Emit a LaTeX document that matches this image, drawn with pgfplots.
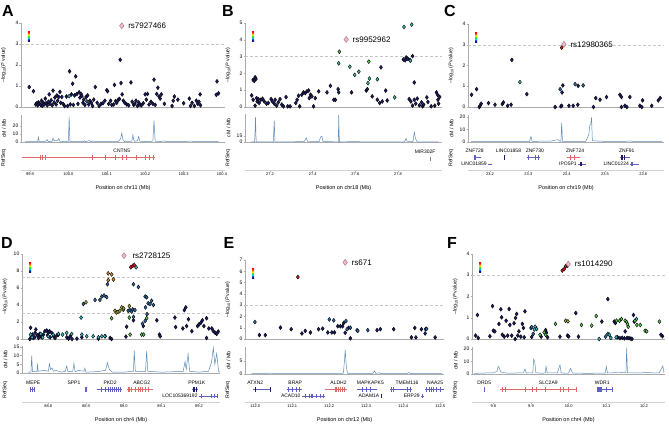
\documentclass[border=0pt]{standalone}
\usepackage{fontspec}
\setmainfont{Liberation Sans}
\usepackage{pgfplots}
\pgfplotsset{compat=1.18}
\definecolor{lznavy}{RGB}{28,28,105}
\definecolor{lzsteel}{RGB}{45,105,165}
\definecolor{lzcyan}{RGB}{60,185,195}
\definecolor{lzteal}{RGB}{70,190,165}
\definecolor{lzgreen}{RGB}{95,200,85}
\definecolor{lzolive}{RGB}{165,175,60}
\definecolor{lzorange}{RGB}{210,140,55}
\definecolor{lzred}{RGB}{205,35,35}
\definecolor{lzpink}{RGB}{232,188,198}
\definecolor{lzpinkd}{RGB}{175,110,130}
\definecolor{recomb}{RGB}{95,140,185}
\definecolor{genebl}{RGB}{95,95,190}
\definecolor{genered}{RGB}{222,105,105}
\pgfdeclareverticalshading{ldshade}{10bp}{color(0bp)=(lznavy); color(3bp)=(blue!80!black); color(6bp)=(cyan!90!blue); color(9bp)=(green!85!black); color(12bp)=(yellow!90!green); color(15bp)=(orange); color(18bp)=(red); color(20bp)=(red)}
\newcommand{\lzlegend}{\shade[shading=ldshade] (rel axis cs:0,1) ++(7pt,-26pt) rectangle ++(8pt,18pt);}
\pgfplotsset{
  lzbox/.style n args={4}{scale only axis, anchor=north west, at={(#1pt,-#2pt)}, width=#3pt, height=#4pt},
  lzcommon/.style={axis line style={gray!65, line width=0.4pt}, tick style={gray!65, line width=0.4pt},
    tick align=outside, major tick length=1.5pt, clip=false,
    /pgf/number format/assume math mode=true,
    yticklabel style={font=\fontsize{5}{5}\selectfont, inner sep=1pt},
    every axis y label/.style={at={(axis description cs:-0.056,0.5)}, rotate=90, anchor=south, font=\fontsize{5.2}{6}\selectfont}},
  scat/.style={lzcommon, axis x line*=bottom, axis y line*=left, xtick=\empty, ymin=0,
    ylabel={\textendash log\textsubscript{10}(\textit{P} value)}},
  rec/.style={lzcommon, axis x line*=bottom, axis y line*=left, xtick=\empty, ylabel={cM / Mb}, ymin=0},
  ref/.style={lzcommon, axis x line*=bottom, axis y line*=left, y axis line style={draw=none},
    x axis line style={gray!35}, ytick=\empty, ymin=0, ymax=1, ylabel={RefSeq},
    xticklabel style={font=\fontsize{4}{4}\selectfont, inner sep=1pt},
    every axis x label/.style={at={(axis description cs:0.5,0)}, anchor=north, yshift=-12pt, font=\fontsize{5.5}{6}\selectfont}},
  snp/.style={only marks, mark=diamond*, mark size=2pt, mark options={draw=none, fill=#1}},
  lead/.style={only marks, mark=diamond*, mark size=3pt, mark options={fill=lzpink, draw=lzpinkd, line width=0.4pt}},
  thr/.style={gray!45, densely dashed, line width=0.4pt},
  rline/.style={recomb, line width=0.5pt},
  gl/.style={#1, line width=0.4pt},
  gx/.style={only marks, mark=|, mark size=2.2pt, mark options={draw=#1, line width=0.5pt}},
}
\tikzset{genelab/.style={font=\fontsize{5}{5}\selectfont, inner sep=0.5pt},
  rslab/.style={anchor=west, font=\fontsize{8}{8}\selectfont, xshift=3pt},
  letter/.style={font=\bfseries\fontsize{16}{16}\selectfont}}
\begin{document}
\begin{tikzpicture}
\path[use as bounding box] (0pt,0pt) rectangle (669pt,-425pt);
\node[letter] at (8pt,-11pt) {A};
\node[letter] at (228pt,-11pt) {B};
\node[letter] at (450pt,-11pt) {C};
\node[letter] at (7pt,-243pt) {D};
\node[letter] at (229pt,-243pt) {E};
\node[letter] at (452pt,-243pt) {F};
% ================= A =================
\begin{axis}[lzbox={21}{23}{204}{84}, scat, xmin=99.8766, xmax=100.4078, ymax=4, ytick={0,1,2,3,4}]
\addplot[thr] coordinates {(99.8766,3) (100.4078,3)};
\addplot[snp=lznavy] coordinates {(99.898,0.95) (99.909,0.75) (99.915,0.12) (99.918,0.18) (99.92,0.08) (99.922,0.22) (99.925,0.15) (99.928,0.10) (99.93,0.30) (99.932,0.05) (99.935,0.20) (99.937,0.12) (99.94,0.40) (99.942,0.18) (99.945,0.08) (99.948,0.25) (99.95,0.60) (99.952,0.15) (99.955,0.32) (99.958,0.08) (99.96,0.78) (99.963,0.22) (99.965,0.45) (99.968,0.12) (99.97,0.55) (99.972,0.30) (99.975,0.48) (99.978,0.72) (99.98,0.20) (99.983,0.48) (99.986,0.15) (99.99,0.05) (99.995,0.50) (99.998,0.05) (100.003,1.70) (100.005,0.12) (100.008,0.60) (100.011,1.11) (100.013,0.10) (100.016,0.55) (100.019,1.46) (100.022,0.62) (100.025,0.15) (100.028,0.70) (100.03,0.45) (100.033,0.62) (100.035,0.52) (100.038,0.20) (100.04,0.35) (100.043,0.10) (100.046,0.48) (100.05,0.55) (100.053,0.12) (100.056,0.30) (100.06,0.20) (100.063,0.05) (100.066,0.35) (100.07,0.95) (100.075,0.20) (100.08,0.05) (100.085,0.15) (100.09,0.18) (100.095,0.30) (100.1,0.80) (100.102,0.75) (100.105,0.15) (100.11,0.30) (100.113,0.10) (100.118,0.12) (100.12,1.05) (100.123,0.28) (100.126,0.20) (100.13,0.35) (100.133,0.38) (100.135,2.25) (100.137,1.14) (100.14,0.60) (100.143,0.30) (100.147,0.20) (100.152,0.12) (100.157,0.08) (100.163,1.17) (100.166,0.25) (100.17,0.10) (100.173,0.15) (100.176,0.30) (100.18,0.05) (100.183,0.22) (100.186,0.12) (100.19,0.08) (100.195,0.18) (100.2,0.60) (100.203,0.35) (100.206,0.62) (100.21,0.12) (100.215,0.25) (100.22,0.15) (100.223,1.30) (100.226,0.10) (100.23,0.62) (100.233,0.92) (100.236,0.50) (100.239,0.40) (100.242,0.60) (100.25,0.15) (100.27,0.05) (100.273,0.30) (100.276,0.50) (100.285,0.35) (100.3,0.18) (100.315,0.40) (100.318,0.05) (100.322,0.20) (100.328,0.05) (100.333,0.30) (100.337,0.15) (100.34,0.25) (100.343,0.60) (100.344,0.08) (100.385,0.58) (100.387,1.22) (100.391,0.65)};
\addplot[snp=lzcyan] coordinates {(100.002,0.52)};
\addplot[snp=lzsteel] coordinates {(100.048,0.27)};
\addplot[lead] coordinates {(100.139,3.87)};
\node[rslab] at (axis cs:100.139,3.87) {rs7927466};
\lzlegend
\end{axis}
\begin{axis}[lzbox={21}{115}{204}{27}, rec, xmin=99.8766, xmax=100.4078, ymax=34, ytick={0,10,20}]
\addplot[rline] coordinates {(99.887,0.3) (99.92,0.5) (99.922,6) (99.924,0.6) (99.94,0.8) (99.945,3) (99.947,0.5) (99.958,1) (99.96,5) (99.963,1.5) (99.972,2) (99.975,4.5) (99.978,1) (99.99,0.5) (100.0,0.8) (100.002,32) (100.004,0.5) (100.04,0.5) (100.042,1.5) (100.045,0.5) (100.055,1.8) (100.058,0.5) (100.065,1.2) (100.068,0.4) (100.1,0.5) (100.13,0.6) (100.136,4) (100.139,11) (100.142,3) (100.146,0.6) (100.165,1) (100.168,9) (100.17,3) (100.173,0.8) (100.18,1.5) (100.183,7) (100.186,1) (100.2,0.6) (100.22,1) (100.223,27) (100.226,1) (100.24,0.6) (100.25,1.5) (100.255,0.4) (100.3,0.6) (100.32,1.2) (100.33,0.4) (100.38,0.8) (100.391,0.4)};
\end{axis}
\begin{axis}[lzbox={21}{146}{204}{24}, ref, xmin=99.8766, xmax=100.4078, xtick={99.9,100.0,100.1,100.2,100.3,100.4}, xticklabels={99.9,100.0,100.1,100.2,100.3,100.4}, xlabel={Position on chr11 (Mb)}]
\addplot[gl=genered] coordinates {(99.878,0.52) (100.226,0.52)};
\addplot[gx=genered] coordinates {(99.928,0.52) (99.933,0.52) (99.939,0.52) (100.061,0.52) (100.096,0.52) (100.122,0.52) (100.139,0.52) (100.15,0.52) (100.178,0.52) (100.2,0.52) (100.211,0.52) (100.222,0.52)};
\node[genelab] at (axis cs:100.139,0.8) {CNTN5};
\end{axis}
% ================= B =================
\begin{axis}[lzbox={245}{23}{197}{84}, scat, xmin=27.0828, xmax=28.006, ymax=5, ytick={0,1,2,3,4,5}]
\addplot[thr] coordinates {(27.0828,3) (28.006,3)};
\addplot[snp=lznavy] coordinates {(27.114,0.69) (27.121,0.43) (27.13,0.08) (27.121,1.61) (27.13,1.77) (27.134,1.67) (27.126,1.55) (27.137,0.53) (27.14,0.33) (27.145,0.47) (27.149,0.24) (27.157,0.43) (27.165,0.49) (27.173,0.33) (27.184,0.2) (27.192,0.24) (27.205,0.47) (27.211,0.33) (27.22,0.2) (27.224,0.43) (27.231,0.08) (27.239,0.28) (27.247,0.47) (27.255,0.14) (27.263,0.04) (27.275,0.59) (27.283,0.04) (27.294,0.04) (27.321,0.24) (27.327,0.43) (27.334,0.67) (27.339,0.04) (27.349,0.73) (27.357,0.87) (27.365,0.83) (27.373,0.93) (27.381,0.98) (27.384,0.53) (27.39,0.73) (27.396,0.63) (27.404,0.04) (27.412,0.53) (27.428,0.93) (27.467,0.87) (27.483,1.26) (27.499,0.43) (27.506,0.43) (27.519,1.06) (27.522,0.87) (27.582,0.87) (27.651,0.98) (27.656,1.06) (27.679,0.63) (27.703,0.43) (27.714,0.24) (27.726,0.33) (27.742,0.98) (27.749,0.39) (27.72,2.36) (27.825,2.83) (27.833,2.78) (27.838,2.95) (27.845,2.88) (27.855,2.8) (27.868,3.03) (27.876,1.46) (27.852,0.47) (27.86,0.33) (27.868,0.08) (27.876,0.43) (27.883,0.2) (27.89,0.5) (27.9,0.1) (27.91,0.28) (27.915,0.04) (27.92,0.14) (27.935,0.57) (27.94,0.3) (27.955,0.04) (27.972,0.08) (27.987,0.43) (27.99,0.2) (27.98,0.87) (27.985,0.73) (27.995,0.6)};
\addplot[snp=lzteal] coordinates {(27.574,2.40) (27.616,2.1) (27.597,1.91) (27.659,1.42) (27.666,1.69) (27.703,1.65) (27.522,2.60) (27.784,0.57) (27.858,2.76) (27.828,4.76) (27.864,4.9)};
\addplot[snp=lzgreen] coordinates {(27.525,3.29) (27.663,2.70)};
\addplot[lead] coordinates {(27.557,4.02)};
\node[rslab] at (axis cs:27.557,4.02) {rs9952962};
\lzlegend
\end{axis}
\begin{axis}[lzbox={245}{114}{197}{28}, rec, xmin=27.0828, xmax=28.006, ymax=72, ytick={0,15}]
\addplot[rline] coordinates {(27.11,0.3) (27.128,0.5) (27.132,63) (27.135,0.5) (27.15,0.4) (27.215,0.5) (27.22,55) (27.223,0.5) (27.3,0.6) (27.36,0.8) (27.365,6) (27.37,11) (27.375,3) (27.38,0.6) (27.43,1) (27.437,13) (27.443,15) (27.448,1) (27.5,0.6) (27.52,0.5) (27.522,69) (27.525,0.5) (27.6,0.8) (27.65,0.4) (27.7,0.6) (27.83,0.6) (27.838,9) (27.842,2) (27.87,1) (27.876,25) (27.882,8) (27.89,0.6) (27.95,0.4) (27.99,0.5)};
\end{axis}
\begin{axis}[lzbox={245}{146}{197}{24}, ref, xmin=27.0828, xmax=28.006, xtick={27.2,27.4,27.6,27.8}, xticklabels={27.2,27.4,27.6,27.8}, xlabel={Position on chr18 (Mb)}]
\addplot[gx=gray] coordinates {(27.95,0.45)};
\node[genelab] at (axis cs:27.927,0.78) {MIR302F};
\end{axis}
% ================= C =================
\begin{axis}[lzbox={468}{24}{196}{83}, scat, xmin=23.1426, xmax=23.654, ymax=4, ytick={0,1,2,3,4}]
\addplot[thr] coordinates {(23.1426,3) (23.654,3)};
\addplot[snp=lznavy] coordinates {(23.152,0.59) (23.165,0.86) (23.172,0.0) (23.174,0.06) (23.177,0.16) (23.196,0.19) (23.213,0.11) (23.232,0.14) (23.235,0.22) (23.246,0.06) (23.255,0.11) (23.257,2.27) (23.296,0.62) (23.37,0.0) (23.385,0.03) (23.387,0.06) (23.388,0.70) (23.39,1.04) (23.406,0.06) (23.417,0.06) (23.429,0.11) (23.43,1.02) (23.47,0.0) (23.476,0.43) (23.487,0.35) (23.504,0.48) (23.539,0.59) (23.543,0.48) (23.543,0.0) (23.552,0.06) (23.557,0.0) (23.565,0.48) (23.591,0.06) (23.596,0.0) (23.598,0.32) (23.622,0.06) (23.639,0.32) (23.644,0.43)};
\addplot[snp=lzsteel] coordinates {(23.383,0.86) (23.422,1.10) (23.443,1.04)};
\addplot[snp=lzteal] coordinates {(23.278,1.2)};
\addplot[snp=lzred] coordinates {(23.387,2.86)};
\addplot[lead] coordinates {(23.393,3.02)};
\node[rslab] at (axis cs:23.393,3.02) {rs12980365};
\lzlegend
\end{axis}
\begin{axis}[lzbox={468}{115}{196}{27}, rec, xmin=23.1426, xmax=23.654, ymax=21.6, ytick={0,10,20}]
\addplot[rline] coordinates {(23.15,0.2) (23.2,0.3) (23.25,0.2) (23.303,0.5) (23.307,4.5) (23.31,0.5) (23.36,0.8) (23.37,1.5) (23.378,1.8) (23.382,0.6) (23.385,0.5) (23.387,15.5) (23.389,0.5) (23.45,0.6) (23.455,4) (23.458,6) (23.46,13) (23.463,14) (23.465,19.7) (23.467,1) (23.5,0.5) (23.54,0.4) (23.57,0.8) (23.575,0.3) (23.62,0.3) (23.65,0.5)};
\end{axis}
\begin{axis}[lzbox={468}{146}{196}{24}, ref, xmin=23.1426, xmax=23.654, xtick={23.2,23.3,23.4,23.5,23.6}, xticklabels={23.2,23.3,23.4,23.5,23.6}, xlabel={Position on chr19 (Mb)}]
\addplot[gl=genebl] coordinates {(23.157,0.52) (23.177,0.52)};
\addplot[gx=genebl] coordinates {(23.158,0.52) (23.162,0.52)};
\node[genelab] at (axis cs:23.16,0.8) {ZNF728};
\addplot[gx=lznavy] coordinates {(23.237,0.52)};
\node[genelab] at (axis cs:23.248,0.8) {LINC01858};
\addplot[gl=genebl] coordinates {(23.296,0.52) (23.33,0.52)};
\addplot[gx=genebl] coordinates {(23.3,0.52) (23.318,0.52) (23.325,0.52)};
\node[genelab] at (axis cs:23.317,0.8) {ZNF730};
\addplot[gl=genered] coordinates {(23.4,0.52) (23.435,0.52)};
\addplot[gx=genered] coordinates {(23.41,0.52) (23.42,0.52)};
\node[genelab] at (axis cs:23.422,0.8) {ZNF724};
\addplot[gl=genebl] coordinates {(23.539,0.52) (23.565,0.52)};
\addplot[gx=lznavy] coordinates {(23.542,0.52) (23.544,0.52) (23.55,0.52)};
\node[genelab] at (axis cs:23.557,0.8) {ZNF91};
\addplot[gl=genebl] coordinates {(23.194,0.25) (23.204,0.25)};
\node[genelab, anchor=east] at (axis cs:23.193,0.25) {LINC01859};
\addplot[gl=genebl] coordinates {(23.43,0.25) (23.45,0.25)};
\addplot[gx=lznavy] coordinates {(23.436,0.25) (23.438,0.25)};
\node[genelab, anchor=east] at (axis cs:23.428,0.25) {IPO5P1};
\addplot[gl=genebl] coordinates {(23.566,0.25) (23.59,0.25)};
\addplot[gx=genebl] coordinates {(23.568,0.25) (23.572,0.25)};
\node[genelab, anchor=east] at (axis cs:23.564,0.25) {LINC01224};
\end{axis}
% ================= D =================
\begin{axis}[lzbox={22}{254}{198}{85}, scat, xmin=88.7302, xmax=89.2557, ymax=10, ytick={0,2,4,6,8,10}]
\addplot[thr] coordinates {(88.7302,7.3) (89.2557,7.3)};
\addplot[thr] coordinates {(88.7302,3) (89.2557,3)};
\addplot[snp=lznavy] coordinates {(88.751,0.0) (88.753,1.32) (88.755,0.32) (88.758,0.52) (88.76,0.12) (88.764,0.2) (88.765,0.72) (88.767,1.12) (88.771,0.44) (88.774,0.12) (88.777,0.6) (88.78,0.32) (88.783,0.2) (88.787,0.52) (88.791,0.92) (88.796,1.0) (88.798,0.44) (88.8,0.72) (88.803,0.92) (88.805,0.2) (88.809,0.72) (88.814,0.32) (88.818,0.12) (88.823,0.44) (88.827,0.52) (88.849,0.2) (88.854,0.04) (88.858,0.32) (88.863,0.0) (88.876,0.04) (88.889,0.2) (88.933,0.04) (88.951,0.32) (88.964,0.12) (88.968,0.0) (89.006,0.28) (89.008,1.44) (89.026,2.2) (89.052,1.52) (89.088,2.2) (89.095,0.52) (89.097,0.32) (89.136,2.52) (89.138,1.4) (89.157,1.24) (89.161,3.4) (89.165,3.72) (89.167,1.52) (89.172,2.32) (89.181,0.92) (89.196,1.52) (89.2,1.72) (89.205,1.92) (89.209,2.2) (89.213,1.52) (89.22,2.44) (89.22,0.12) (89.226,1.24) (89.234,1.24) (89.238,0.92) (89.243,0.72) (89.247,0.6) (89.251,0.88)};
\addplot[snp=lzcyan] coordinates {(88.753,0.52) (88.757,0.2) (88.813,0.52) (88.827,0.6) (88.838,0.52) (88.849,0.72) (88.862,0.6) (88.887,2.52) (88.889,0.52) (88.902,0.32) (88.919,0.32) (88.933,0.2) (88.942,0.32) (88.95,0.32) (88.785,0.2) (88.8,0.32) (88.78,0.6) (89.033,8.44)};
\addplot[snp=lzsteel] coordinates {(88.893,4.12) (88.924,4.6) (88.937,4.6) (88.942,5.0) (88.948,5.12) (88.955,4.92) (88.957,6.44) (89.026,6.44) (89.039,6.12) (89.057,5.0) (89.061,4.9) (89.065,4.2) (89.07,4.12) (89.074,4.5) (89.079,4.0) (89.058,3.72) (89.062,2.92) (89.057,2.12) (89.05,1.8) (89.012,3.32) (89.017,3.4) (89.021,3.24) (89.024,3.48) (89.03,3.4) (89.026,2.6)};
\addplot[snp=lzgreen] coordinates {(88.968,2.44) (89.015,2.52) (89.017,0.52) (89.048,0.52) (89.053,0.52) (89.061,2.44)};
\addplot[snp=lzolive] coordinates {(88.9,4.32) (88.977,3.32) (88.981,3.12) (88.985,3.2) (88.99,3.32) (88.995,3.72) (88.999,3.44) (89.0,3.6) (89.015,3.88)};
\addplot[snp=lzorange] coordinates {(88.959,7.72) (88.968,7.6) (88.959,6.92) (88.973,7.0)};
\addplot[snp=lzred] coordinates {(89.019,8.44) (89.024,8.6) (89.028,8.72)};
\addplot[lead] coordinates {(89.001,9.8)};
\node[rslab, xshift=2pt] at (axis cs:89.001,9.8) {rs2728125};
\lzlegend
\end{axis}
\begin{axis}[lzbox={22}{346}{198}{27}, rec, xmin=88.7302, xmax=89.2557, ymax=15.6, ytick={0,5,10,15}]
\addplot[rline] coordinates {(88.745,0.5) (88.754,0.5) (88.756,10) (88.758,0.8) (88.77,1) (88.771,5.5) (88.773,1) (88.79,1.5) (88.8,1) (88.803,5.3) (88.806,2) (88.81,3) (88.813,1) (88.82,1.5) (88.835,0.5) (88.845,1) (88.849,4) (88.852,0.8) (88.865,1) (88.868,5.6) (88.871,0.8) (88.88,1.5) (88.895,1) (88.897,2.8) (88.9,0.5) (88.93,0.8) (88.952,1.5) (88.957,6) (88.962,2) (88.97,0.5) (89.0,0.5) (89.026,1) (89.028,13) (89.031,1) (89.058,1) (89.061,12.8) (89.064,1) (89.1,0.5) (89.14,0.8) (89.158,1) (89.163,6.6) (89.166,2) (89.171,11) (89.175,1) (89.2,0.5) (89.225,1) (89.233,6) (89.238,14.6) (89.242,5) (89.247,11.3) (89.252,1) (89.255,0.5)};
\end{axis}
\begin{axis}[lzbox={22}{378}{198}{24}, ref, xmin=88.7302, xmax=89.2557, xtick={88.8,88.9,89.0,89.1,89.2}, xticklabels={88.8,88.9,89.0,89.1,89.2}, xlabel={Position on chr4 (Mb)}]
\addplot[gl=genebl] coordinates {(88.751,0.52) (88.765,0.52)};
\addplot[gx=genebl] coordinates {(88.753,0.52) (88.758,0.52) (88.762,0.52)};
\node[genelab] at (axis cs:88.76,0.8) {MEPE};
\addplot[gl=genebl] coordinates {(88.897,0.52) (88.904,0.52)};
\addplot[gx=genebl] coordinates {(88.898,0.52) (88.902,0.52)};
\node[genelab] at (axis cs:88.868,0.8) {SPP1};
\addplot[gl=genebl] coordinates {(88.928,0.52) (88.995,0.52)};
\addplot[gx=genebl] coordinates {(88.94,0.52) (88.95,0.52) (88.958,0.52) (88.965,0.52) (88.97,0.52) (88.975,0.52) (88.98,0.52) (88.985,0.52) (88.99,0.52)};
\node[genelab] at (axis cs:88.964,0.8) {PKD2};
\addplot[gl=genered] coordinates {(89.008,0.52) (89.079,0.52)};
\addplot[gx=genered] coordinates {(89.012,0.52) (89.016,0.52) (89.02,0.52) (89.03,0.52) (89.04,0.52) (89.045,0.52) (89.05,0.52) (89.058,0.52) (89.065,0.52)};
\node[genelab] at (axis cs:89.048,0.8) {ABCG2};
\addplot[gl=genebl] coordinates {(89.181,0.52) (89.198,0.52)};
\addplot[gx=lznavy] coordinates {(89.184,0.52) (89.188,0.52) (89.192,0.52)};
\node[genelab] at (axis cs:89.194,0.8) {PPM1K};
\addplot[gl=genebl] coordinates {(89.2,0.25) (89.251,0.25)};
\addplot[gx=genebl] coordinates {(89.205,0.25) (89.232,0.25) (89.24,0.25) (89.248,0.25)};
\node[genelab, anchor=east] at (axis cs:89.198,0.25) {LOC105369192};
\end{axis}
% ================= E =================
\begin{axis}[lzbox={245}{260}{199}{79}, scat, xmin=111.9722, xmax=112.51, ymax=7, ytick={0,1,2,3,4,5,6,7}]
\addplot[thr] coordinates {(111.9722,3) (112.51,3)};
\addplot[snp=lznavy] coordinates {(112.011,0.35) (112.027,0.35) (112.068,1.01) (112.097,0.87) (112.126,0.49) (112.135,0.72) (112.149,0.58) (112.171,0.87) (112.182,0.92) (112.196,0.58) (112.207,0.58) (112.214,0.58) (112.223,1.13) (112.23,1.13) (112.236,1.13) (112.239,1.42) (112.243,0.55) (112.252,0.98) (112.257,0.06) (112.329,0.78) (112.338,0.87) (112.374,0.87) (112.422,0.14) (112.431,0.98) (112.434,0.14) (112.449,0.87) (112.459,0.49) (112.486,0.14)};
\addplot[snp=lzsteel] coordinates {(111.999,1.5) (112.2,1.73) (112.212,1.65) (112.245,1.59) (112.248,0.87) (112.257,1.0) (112.275,0.78) (112.277,0.72) (112.304,0.78) (112.46,0.87) (112.463,0.9)};
\addplot[snp=lzred] coordinates {(112.115,5.49)};
\addplot[lead] coordinates {(112.243,6.79)};
\node[rslab] at (axis cs:112.243,6.79) {rs671};
\lzlegend
\end{axis}
\begin{axis}[lzbox={245}{347}{199}{27}, rec, xmin=111.9722, xmax=112.51, ymax=10.4, ytick={0,5}]
\addplot[rline] coordinates {(111.99,0.1) (112.03,0.1) (112.04,0.35) (112.05,0.1) (112.2,0.1) (112.238,0.3) (112.241,5) (112.243,9.3) (112.246,3) (112.249,0.3) (112.26,0.1) (112.318,0.2) (112.322,1.2) (112.326,0.2) (112.335,0.5) (112.34,0.1) (112.41,0.1) (112.415,0.6) (112.42,0.1) (112.505,0.1)};
\end{axis}
\begin{axis}[lzbox={245}{378}{199}{24}, ref, xmin=111.9722, xmax=112.51, xtick={112.0,112.1,112.2,112.3,112.4,112.5}, xticklabels={112.0,112.1,112.2,112.3,112.4,112.5}, xlabel={Position on chr12 (Mb)}]
\addplot[gl=genebl] coordinates {(111.995,0.52) (112.043,0.52)};
\addplot[gx=lznavy] coordinates {(112.0,0.52) (112.04,0.52)};
\node[genelab] at (axis cs:112.0,0.8) {ATXN2};
\addplot[gl=genebl] coordinates {(112.086,0.52) (112.126,0.52)};
\addplot[gx=genebl] coordinates {(112.09,0.52) (112.1,0.52) (112.11,0.52) (112.12,0.52)};
\node[genelab] at (axis cs:112.108,0.8) {BRAP};
\addplot[gl=genebl] coordinates {(112.126,0.25) (112.189,0.25)};
\addplot[gx=genebl] coordinates {(112.135,0.25) (112.145,0.25) (112.15,0.25) (112.155,0.25) (112.165,0.25) (112.175,0.25) (112.185,0.25)};
\node[genelab, anchor=east] at (axis cs:112.124,0.25) {ACAD10};
\addplot[gl=genered] coordinates {(112.189,0.52) (112.248,0.52)};
\addplot[gx=genered] coordinates {(112.215,0.52) (112.22,0.52) (112.225,0.52) (112.23,0.52) (112.235,0.52) (112.24,0.52)};
\node[genelab] at (axis cs:112.225,0.8) {ALDH2};
\addplot[gl=genebl] coordinates {(112.275,0.52) (112.329,0.52)};
\addplot[gx=genebl] coordinates {(112.29,0.52) (112.3,0.52) (112.31,0.52)};
\node[genelab] at (axis cs:112.311,0.8) {MAPKAPK5};
\addplot[gx=lznavy] coordinates {(112.341,0.25)};
\node[genelab, anchor=east] at (axis cs:112.337,0.25) {ADAM1A};
\addplot[gl=genebl] coordinates {(112.365,0.52) (112.423,0.52)};
\addplot[gx=genebl] coordinates {(112.368,0.52) (112.372,0.52) (112.41,0.52) (112.42,0.52)};
\node[genelab] at (axis cs:112.41,0.8) {TMEM116};
\addplot[gl=genebl] coordinates {(112.449,0.25) (112.455,0.25)};
\addplot[gx=genebl] coordinates {(112.45,0.25)};
\node[genelab, anchor=east] at (axis cs:112.446,0.25) {ERP29};
\addplot[gl=genebl] coordinates {(112.459,0.52) (112.509,0.52)};
\addplot[gx=genebl] coordinates {(112.463,0.52) (112.47,0.52) (112.475,0.52) (112.48,0.52) (112.49,0.52) (112.5,0.52)};
\node[genelab] at (axis cs:112.486,0.8) {NAA25};
\end{axis}
% ================= F =================
\begin{axis}[lzbox={472}{254}{193}{85}, scat, xmin=9.7435, xmax=10.2557, ymax=4, ytick={0,1,2,3,4}]
\addplot[thr] coordinates {(9.7435,3) (10.2557,3)};
\addplot[snp=lznavy] coordinates {(9.753,0.16) (9.758,1.13) (9.76,0.05) (9.791,0.13) (9.798,1.55) (9.8,0.39) (9.804,0.36) (9.815,0.71) (9.82,1.4) (9.822,1.02) (9.824,0.2) (9.829,0.11) (9.834,0.86) (9.838,0.16) (9.842,1.41) (9.844,0.66) (9.849,0.16) (9.855,0.74) (9.858,0.0) (9.859,0.99) (9.862,1.18) (9.865,0.16) (9.868,0.36) (9.873,0.11) (9.877,0.71) (9.88,0.52) (9.882,0.08) (9.884,1.3) (9.902,0.1) (9.927,0.11) (9.939,0.42) (9.941,0.3) (9.944,0.08) (9.977,0.11) (9.997,0.16) (10.0,0.12) (10.019,1.22) (10.026,0.11) (10.088,0.82) (10.104,1.88) (10.121,0.82) (10.124,0.75) (10.13,0.08) (10.136,0.04) (10.142,0.06) (10.148,0.03) (10.15,0.36) (10.155,0.05) (10.16,0.04) (10.165,0.02) (10.172,1.13) (10.174,0.82) (10.168,0.0) (10.245,0.2) (10.249,0.13)};
\addplot[snp=lzsteel] coordinates {(9.9,0.52) (9.902,0.56) (9.906,0.24) (10.104,0.24) (10.098,0.11)};
\addplot[snp=lzcyan] coordinates {(9.911,0.58) (9.915,0.47) (9.909,0.45) (10.081,0.0) (10.108,0.2) (10.112,0.05) (10.126,0.08) (10.18,0.94)};
\addplot[snp=lzgreen] coordinates {(9.924,0.2) (9.935,0.31) (9.939,0.2) (9.965,0.71) (10.034,0.66) (10.061,0.63) (10.073,1.08) (10.127,0.86) (10.135,0.86) (10.14,0.94) (10.15,0.86) (10.154,0.8) (10.158,0.58) (10.156,0.7) (10.176,0.86) (10.181,0.66) (10.19,0.66) (10.203,0.39) (10.207,0.36) (10.241,0.82)};
\addplot[snp=lzolive] coordinates {(9.992,0.86) (9.998,0.83)};
\addplot[snp=lzred] coordinates {(9.983,3.22) (9.988,3.29) (9.992,3.42) (9.997,3.45)};
\addplot[lead] coordinates {(9.999,3.53)};
\node[rslab] at (axis cs:9.999,3.53) {rs1014290};
\lzlegend
\end{axis}
\begin{axis}[lzbox={472}{347}{193}{27}, rec, xmin=9.7435, xmax=10.2557, ymax=21.6, ytick={0,10,20}]
\addplot[rline] coordinates {(9.75,0.5) (9.8,1) (9.81,2) (9.813,6) (9.816,5) (9.82,1.5) (9.83,1) (9.84,0.6) (9.88,1) (9.884,4) (9.888,0.8) (9.905,1) (9.907,11.9) (9.91,10) (9.913,1) (9.93,0.6) (9.938,1) (9.94,6) (9.943,1) (9.97,0.8) (9.977,7.3) (9.98,1) (9.99,0.6) (10.0,0.8) (10.005,4.6) (10.01,0.8) (10.05,0.5) (10.097,0.8) (10.1,6) (10.103,0.8) (10.12,1) (10.13,1.5) (10.152,1) (10.154,21) (10.156,1) (10.19,0.8) (10.2,1.2) (10.24,0.8) (10.25,6.5) (10.253,0.8)};
\end{axis}
\begin{axis}[lzbox={472}{378}{193}{24}, ref, xmin=9.7435, xmax=10.2557, xtick={9.8,9.9,10.0,10.1,10.2}, xticklabels={9.8,9.9,10.0,10.1,10.2}, xlabel={Position on chr4 (Mb)}]
\addplot[gx=genebl] coordinates {(9.776,0.52)};
\node[genelab] at (axis cs:9.776,0.8) {DRD5};
\addplot[gl=genered] coordinates {(9.818,0.52) (10.021,0.52)};
\addplot[gx=genered] coordinates {(9.824,0.52) (9.831,0.52) (9.884,0.52) (9.904,0.52) (9.915,0.52) (9.937,0.52) (9.977,0.52) (9.986,0.52) (9.999,0.52) (10.021,0.52)};
\node[genelab] at (axis cs:9.946,0.8) {SLC2A9};
\addplot[gl=genebl] coordinates {(10.074,0.52) (10.119,0.52)};
\addplot[gx=genebl] coordinates {(10.075,0.52) (10.078,0.52) (10.081,0.52) (10.084,0.52) (10.087,0.52) (10.1,0.52) (10.115,0.52)};
\node[genelab] at (axis cs:10.089,0.8) {WDR1};
\end{axis}
\end{tikzpicture}
\end{document}
